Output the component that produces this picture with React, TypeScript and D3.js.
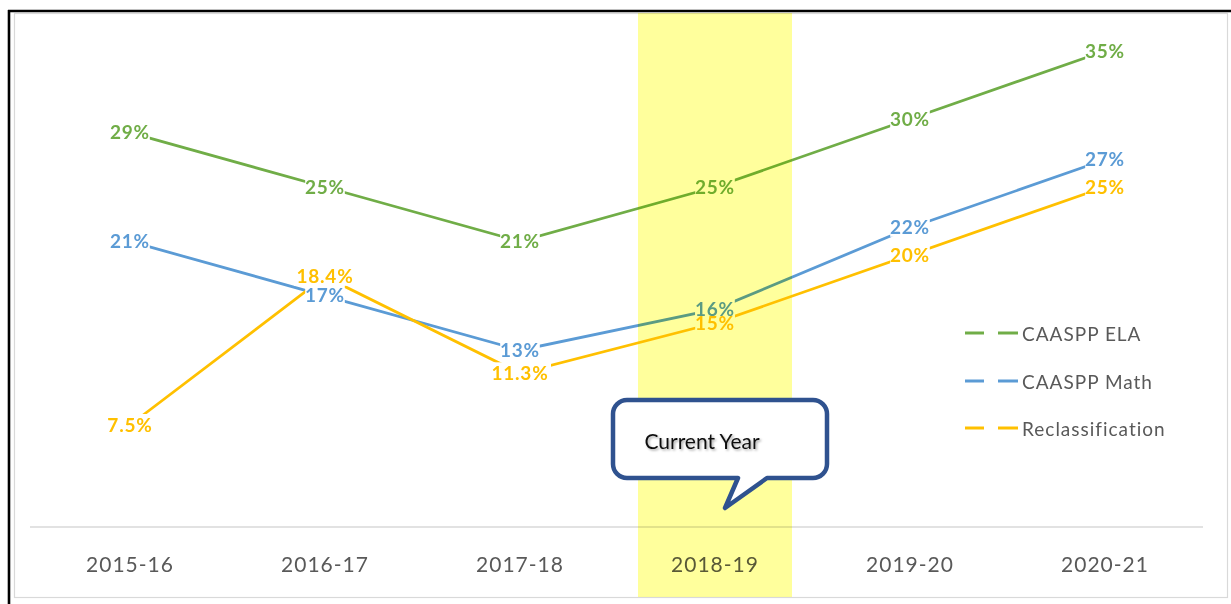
import React from 'react';
import * as d3 from 'd3';

const categories = ['2015-16', '2016-17', '2017-18', '2018-19', '2019-20', '2020-21'];
const elaValues = [29, 25, 21, 25, 30, 35];
const mathValues = [21, 17, 13, 16, 22, 27];
const reclassValues = [7.5, 18.4, 11.3, 15, 20, 25];
const seriesNames = ['CAASPP ELA', 'CAASPP Math', 'Reclassification'];
const seriesColors = ['#70AD47', '#5B9BD5', '#FFC000'];
const currentYear = '2018-19';
const calloutText = 'Current Year';

const W = 1231;
const H = 604;
const FONT = 'Lato, "Open Sans", sans-serif';

export default function App() {
  const x = d3.scalePoint<string>().domain(categories).range([130, 1105]);
  const y = d3.scaleLinear().domain([0, 35]).range([527, 51]);
  const allValues = [elaValues, mathValues, reclassValues];
  const series = allValues.map((vals, i) => ({
    name: seriesNames[i],
    color: seriesColors[i],
    points: vals.map((v, j) => ({ cat: categories[j], v, label: `${v}%` })),
  }));
  const line = d3
    .line<{ cat: string; v: number }>()
    .x((d) => x(d.cat) as number)
    .y((d) => y(d.v));

  const bandCx = x(currentYear) as number;
  const bandW = 154;

  const labelW = (s: string) => s.length * 11.2 + 6;

  // callout geometry
  const cl = 613, cr = 827, ct = 400, cb = 478, r = 14;
  const p = d3.path();
  p.moveTo(cl + r, ct);
  p.lineTo(cr - r, ct);
  p.arcTo(cr, ct, cr, ct + r, r);
  p.lineTo(cr, cb - r);
  p.arcTo(cr, cb, cr - r, cb, r);
  p.lineTo(767, cb);
  p.lineTo(725, 508);
  p.lineTo(738, cb);
  p.lineTo(cl + r, cb);
  p.arcTo(cl, cb, cl, cb - r, r);
  p.lineTo(cl, ct + r);
  p.arcTo(cl, ct, cl + r, ct, r);
  p.closePath();

  const legendY = [333, 381, 428];

  return (
    <svg
      width={W}
      height={H}
      style={{ position: 'absolute', left: 0, top: 0, background: '#fff' }}
      fontFamily={FONT}
    >
      <defs>
        <filter id="ts" x="-10%" y="-30%" width="130%" height="170%">
          <feDropShadow dx="1.5" dy="1.5" stdDeviation="1" floodColor="#000" floodOpacity="0.35" />
        </filter>
      </defs>
      {/* outer frame */}
      <rect x={14.5} y={13.5} width={1213} height={584} fill="#fff" stroke="#D9D9D9" strokeWidth={1.2} />
      <line x1={8} x2={W} y1={11} y2={11} stroke="#000" strokeWidth={2.6} />
      <line x1={9} x2={9} y1={10} y2={H} stroke="#000" strokeWidth={2.6} />

      {/* axis */}
      <line x1={30} x2={1203} y1={527} y2={527} stroke="#D9D9D9" strokeWidth={1.5} />
      {categories.map((c) => (
        <text
          key={c}
          x={x(c)}
          y={563}
          textAnchor="middle"
          dominantBaseline="central"
          fontSize={21}
          letterSpacing={1}
          fill="#595959"
        >
          {c}
        </text>
      ))}

      {/* lines */}
      {series.map((s) => (
        <path key={s.name} d={line(s.points) || ''} fill="none" stroke={s.color} strokeWidth={2.8} />
      ))}

      {/* label backgrounds */}
      {series.map((s) =>
        s.points.map((d) => (
          <rect
            key={s.name + d.cat}
            x={(x(d.cat) as number) - labelW(d.label) / 2}
            y={y(d.v) - 11}
            width={labelW(d.label)}
            height={20}
            fill="#fff"
          />
        ))
      )}
      {series.map((s) =>
        s.points.map((d) => (
          <text
            key={'t' + s.name + d.cat}
            x={x(d.cat)}
            y={y(d.v) - 1}
            textAnchor="middle"
            dominantBaseline="central"
            fontSize={19}
            letterSpacing={0.8}
            fontWeight={700}
            fill={s.color}
          >
            {d.label}
          </text>
        ))
      )}

      {/* legend */}
      {series.map((s, i) => (
        <g key={'lg' + s.name} transform={`translate(0,${legendY[i]})`}>
          <line x1={965} x2={984} y1={0} y2={0} stroke={s.color} strokeWidth={3} />
          <line x1={998} x2={1018} y1={0} y2={0} stroke={s.color} strokeWidth={3} />
          <text x={1022} y={0} dominantBaseline="central" fontSize={19} letterSpacing={1} fill="#595959">
            {s.name}
          </text>
        </g>
      ))}

      {/* current year band */}
      <rect
        x={bandCx - bandW / 2}
        y={13}
        width={bandW}
        height={584}
        fill="#FFFF9C"
        style={{ mixBlendMode: 'multiply' }}
      />

      {/* callout */}
      <path d={p.toString()} fill="#fff" stroke="#2F528F" strokeWidth={4.5} strokeLinejoin="round" />
      <text
        x={702}
        y={440}
        textAnchor="middle"
        dominantBaseline="central"
        fontSize={21}
        fill="#111"
        filter="url(#ts)"
      >
        {calloutText}
      </text>
    </svg>
  );
}
